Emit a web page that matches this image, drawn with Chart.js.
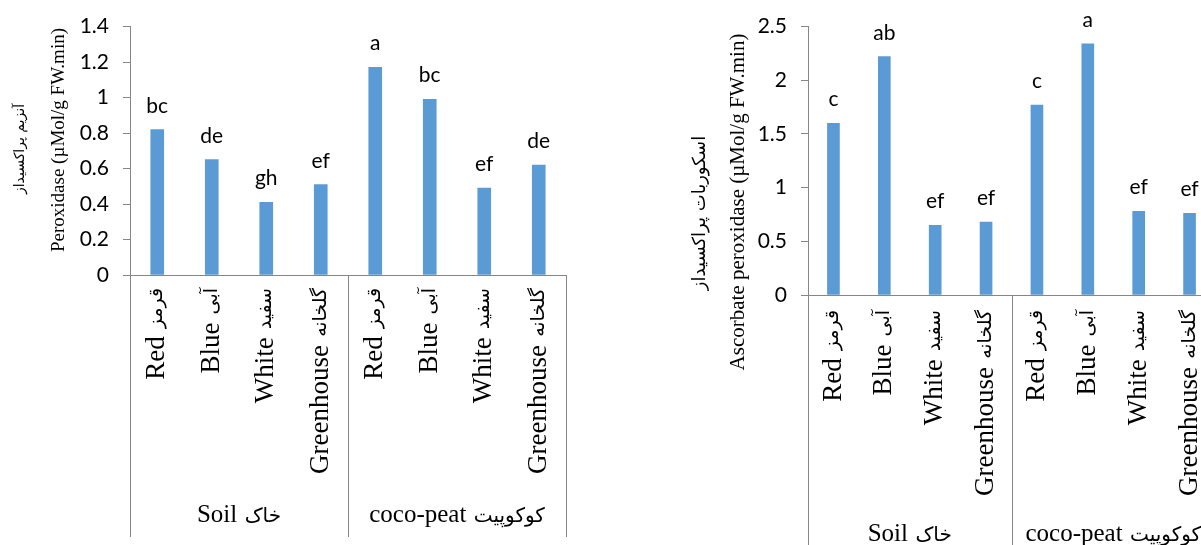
<!DOCTYPE html>
<html>
<head>
<meta charset="utf-8">
<script src="https://cdn.jsdelivr.net/npm/chart.js@4"></script>
<style>
  html, body { margin: 0; padding: 0; background: #fff; overflow: hidden; }
  body { width: 1201px; height: 545px; position: relative; }
  canvas { position: absolute; top: 0; }
  #leftChart { left: 0; }
  #rightChart { left: 680px; }
</style>
</head>
<body>
<canvas id="leftChart" width="600" height="545"></canvas>
<canvas id="rightChart" width="560" height="545"></canvas>
<script>
// ---------- data ---------- //
const categories = ["Red", "Blue", "White", "Greenhouse", "Red", "Blue", "White", "Greenhouse"];
const categoriesFa = ["قرمز", "آبی", "سفید", "گلخانه", "قرمز", "آبی", "سفید", "گلخانه"];
const groups = ["Soil", "coco-peat"];
const groupsFa = ["خاک", "کوکوپیت"];

const peroxidase = [0.82, 0.65, 0.41, 0.51, 1.17, 0.99, 0.49, 0.62];
const peroxidaseLetters = ["bc", "de", "gh", "ef", "a", "bc", "ef", "de"];
const peroxidaseTicks = [0, 0.2, 0.4, 0.6, 0.8, 1, 1.2, 1.4];

const apx = [1.6, 2.22, 0.65, 0.68, 1.77, 2.34, 0.78, 0.76];
const apxLetters = ["c", "ab", "ef", "ef", "c", "a", "ef", "ef"];
const apxTicks = [0, 0.5, 1, 1.5, 2, 2.5];

// ---------- styles ---------- //
const barColor = "#5b9bd5";
const axisColor = "#868686";
const sansFont = "'Lato', 'Liberation Sans', sans-serif";
const serifFont = "'Liberation Serif', 'DejaVu Sans', serif";
const faFont = "'DejaVu Sans', sans-serif";

// draws "english persian" left to right starting at x0
function drawMixed(ctx, en, fa, enSize, faSize, x0, y) {
  ctx.textAlign = "left";
  ctx.font = enSize + "px " + serifFont;
  ctx.fillText(en, x0, y);
  const wEn = ctx.measureText(en).width;
  ctx.font = faSize + "px " + faFont;
  ctx.fillText(fa, x0 + wEn + enSize * 0.3, y);
}
function mixedWidth(ctx, en, fa, enSize, faSize) {
  ctx.font = enSize + "px " + serifFont;
  const wEn = ctx.measureText(en).width;
  ctx.font = faSize + "px " + faFont;
  return wEn + enSize * 0.3 + ctx.measureText(fa).width;
}

const decorPlugin = {
  id: "decor",
  afterDraw(chart, args, o) {
    const ctx = chart.ctx;
    const x = chart.scales.x;
    const area = chart.chartArea;
    const meta = chart.getDatasetMeta(0);
    ctx.save();
    ctx.fillStyle = "#000";

    // letters above bars
    ctx.font = "21px " + sansFont;
    ctx.textAlign = "center";
    ctx.textBaseline = "alphabetic";
    meta.data.forEach((bar, i) => {
      ctx.fillText(o.letters[i], bar.x, bar.y - 17);
    });

    // category / group separators
    ctx.strokeStyle = axisColor;
    ctx.lineWidth = 1;
    [-0.5, 3.5, 7.5].forEach(v => {
      const px = Math.round(x.getPixelForValue(v)) + 0.5;
      ctx.beginPath();
      ctx.moveTo(px, area.bottom);
      ctx.lineTo(px, o.lineBottom);
      ctx.stroke();
    });

    // rotated category labels, end of text at the top
    ctx.textBaseline = "middle";
    categories.forEach((c, i) => {
      const px = x.getPixelForValue(i);
      ctx.save();
      ctx.translate(px, area.bottom + o.labelGap);
      ctx.rotate(-Math.PI / 2);
      const w = mixedWidth(ctx, c, categoriesFa[i], 27, 19);
      drawMixed(ctx, c, categoriesFa[i], 27, 19, -w, 0);
      ctx.restore();
    });

    // group labels
    ctx.textBaseline = "alphabetic";
    groups.forEach((g, i) => {
      const px = x.getPixelForValue(i * 4 + 1.5);
      const w = mixedWidth(ctx, g, groupsFa[i], 25, 20);
      drawMixed(ctx, g, groupsFa[i], 25, 20, px - w / 2, o.groupBaseline);
    });

    // y-axis title, two lines
    ctx.textAlign = "center";
    ctx.textBaseline = "middle";
    ctx.save();
    ctx.translate(o.titleX, o.titleY);
    ctx.rotate(-Math.PI / 2);
    ctx.font = o.titleSize + "px " + serifFont;
    ctx.fillText(o.titleEn, 0, 0);
    ctx.restore();
    ctx.save();
    ctx.translate(o.titleFaX, o.titleFaY);
    ctx.rotate(-Math.PI / 2);
    ctx.font = o.titleFaSize + "px " + faFont;
    ctx.fillText(o.titleFa, 0, 0);
    ctx.restore();

    ctx.restore();
  }
};

function makeChart(id, values, letters, ticks, cfg) {
  const canvas = document.getElementById(id);
  return new Chart(canvas.getContext("2d"), {
    type: "bar",
    data: {
      labels: categories,
      datasets: [{
        data: values,
        backgroundColor: barColor,
        borderWidth: 0,
        barThickness: cfg.barW
      }]
    },
    options: {
      responsive: false,
      animation: false,
      events: [],
      layout: { padding: { top: 25, right: cfg.rightPad, left: 0, bottom: 0 } },
      plugins: {
        legend: { display: false },
        tooltip: { enabled: false },
        decor: {
          letters: letters,
          lineBottom: cfg.lineBottom,
          labelGap: cfg.labelGap,
          groupBaseline: cfg.groupBaseline,
          titleEn: cfg.titleEn,
          titleFa: cfg.titleFa,
          titleX: cfg.titleX,
          titleY: cfg.titleY,
          titleFaX: cfg.titleFaX,
          titleFaY: cfg.titleFaY,
          titleSize: cfg.titleSize,
          titleFaSize: cfg.titleFaSize
        }
      },
      scales: {
        x: {
          ticks: { display: false },
          grid: { display: true, drawOnChartArea: false, drawTicks: false },
          border: { color: axisColor, width: 1 },
          afterFit: s => { s.height = 545 - 25 - cfg.plotH; }
        },
        y: {
          min: ticks[0],
          max: ticks[ticks.length - 1],
          afterBuildTicks: s => { s.ticks = ticks.map(v => ({ value: v })); },
          ticks: {
            color: "#000",
            padding: 14,
            font: { family: sansFont, size: 21 },
            callback: v => String(Math.round(v * 10) / 10)
          },
          grid: { drawOnChartArea: false, drawTicks: true, tickLength: 7, color: axisColor },
          border: { color: axisColor, width: 1 },
          afterFit: s => { s.width = cfg.axisW; }
        }
      }
    },
    plugins: [decorPlugin]
  });
}

makeChart("leftChart", peroxidase, peroxidaseLetters, peroxidaseTicks, {
  barW: 13, axisW: 130, plotH: 250, rightPad: 34,
  lineBottom: 537, labelGap: 13, groupBaseline: 522,
  titleEn: "Peroxidase (µMol/g FW.min)", titleFa: "آنزیم پراکسیداز",
  titleX: 59, titleY: 140, titleFaX: 20, titleFaY: 149, titleSize: 19, titleFaSize: 14
});

makeChart("rightChart", apx, apxLetters, apxTicks, {
  barW: 12, axisW: 128, plotH: 270, rightPad: 25,
  lineBottom: 545, labelGap: 15, groupBaseline: 541,
  titleEn: "Ascorbate peroxidase (µMol/g FW.min)", titleFa: "اسکوربات پراکسیداز",
  titleX: 58, titleY: 202, titleFaX: 20, titleFaY: 213, titleSize: 21, titleFaSize: 18
});
</script>
</body>
</html>
